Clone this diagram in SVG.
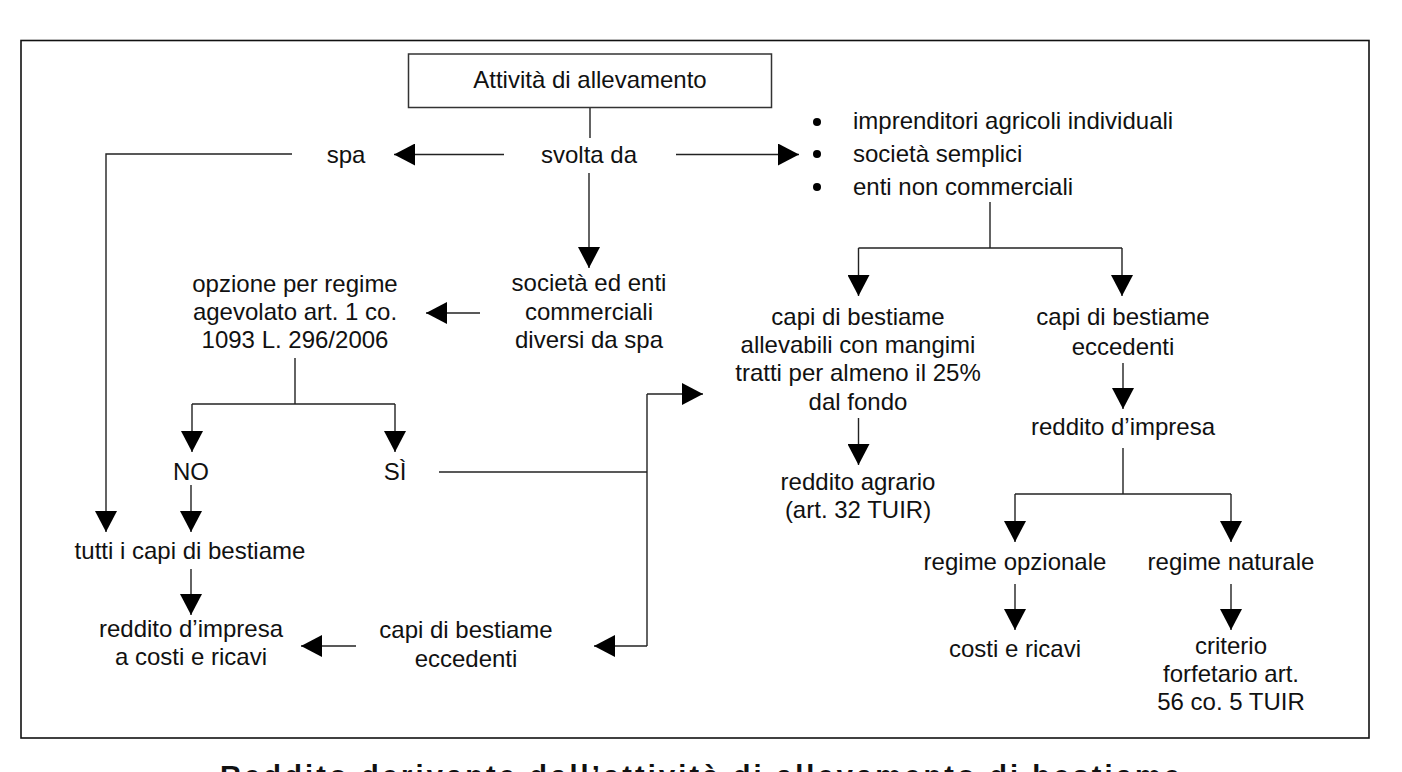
<svg xmlns="http://www.w3.org/2000/svg" width="1402" height="772" viewBox="0 0 1402 772">
<defs>
<marker id="ah" markerUnits="userSpaceOnUse" markerWidth="22" markerHeight="22" refX="21" refY="11" orient="auto">
<path d="M0,0 L21,11 L0,22 z" fill="#000"/>
</marker>
<style>
text{font-family:"Liberation Sans",Arial,sans-serif;font-size:24px;fill:#111;}
.c{text-anchor:middle;}
.ln{stroke:#222;stroke-width:1.4;fill:none;}
.ar{stroke:#222;stroke-width:1.4;fill:none;marker-end:url(#ah);}
.cap{font-weight:bold;font-size:29px;}
</style>
</defs>
<rect width="1402" height="772" fill="#fff"/>
<rect id="frame" x="21" y="40.5" width="1348" height="697.5" fill="none" stroke="#111" stroke-width="1.6"/>

<g id="connectors">
<line class="ln" x1="590" y1="107" x2="590" y2="138"/>
<line class="ar" x1="504" y1="154.5" x2="394" y2="154.5"/>
<line class="ar" x1="676" y1="154.5" x2="799" y2="154.5"/>
<line class="ar" x1="589" y1="173" x2="589" y2="268"/>
<polyline class="ar" points="292,154 106,154 106,532"/>
<line class="ar" x1="480" y1="313" x2="426" y2="313"/>
<line class="ln" x1="295" y1="358" x2="295" y2="404"/>
<line class="ln" x1="192" y1="404" x2="395" y2="404"/>
<line class="ar" x1="192" y1="404" x2="192" y2="452"/>
<line class="ar" x1="395" y1="404" x2="395" y2="452"/>
<line class="ar" x1="191" y1="485" x2="191" y2="532"/>
<line class="ar" x1="191" y1="569" x2="191" y2="615"/>
<line class="ln" x1="439" y1="472" x2="647" y2="472"/>
<line class="ln" x1="647" y1="394" x2="647" y2="646"/>
<line class="ar" x1="647" y1="394" x2="703" y2="394"/>
<line class="ar" x1="647" y1="646" x2="594" y2="646"/>
<line class="ar" x1="356" y1="646" x2="301" y2="646"/>
<line class="ln" x1="990" y1="202" x2="990" y2="248"/>
<line class="ln" x1="858.5" y1="248" x2="1122" y2="248"/>
<line class="ar" x1="858.5" y1="248" x2="858.5" y2="296"/>
<line class="ar" x1="1122" y1="248" x2="1122" y2="296"/>
<line class="ar" x1="858.5" y1="418" x2="858.5" y2="465"/>
<line class="ar" x1="1123" y1="363" x2="1123" y2="409"/>
<line class="ln" x1="1123" y1="448" x2="1123" y2="494"/>
<line class="ln" x1="1015" y1="494" x2="1231" y2="494"/>
<line class="ar" x1="1015" y1="494" x2="1015" y2="542"/>
<line class="ar" x1="1231" y1="494" x2="1231" y2="542"/>
<line class="ar" x1="1015" y1="584" x2="1015" y2="630"/>
<line class="ar" x1="1231" y1="584" x2="1231" y2="630"/>
</g>

<g id="n-attivita">
<rect x="408.5" y="54" width="363" height="53.5" fill="#fff" stroke="#333" stroke-width="1.5"/>
<text class="c" x="590" y="88">Attività di allevamento</text>
</g>
<g id="n-svolta"><text class="c" x="589" y="163">svolta da</text></g>
<g id="n-spa"><text class="c" x="346" y="163">spa</text></g>
<g id="n-elenco">
<circle cx="817" cy="122" r="4" fill="#000"/>
<circle cx="817" cy="154" r="4" fill="#000"/>
<circle cx="817" cy="187" r="4" fill="#000"/>
<text x="853" y="129">imprenditori agricoli individuali</text>
<text x="853" y="162">società semplici</text>
<text x="853" y="195">enti non commerciali</text>
</g>
<g id="n-societa"><text class="c" x="589" y="291">società ed enti</text><text class="c" x="589" y="320">commerciali</text><text class="c" x="589" y="348">diversi da spa</text></g>
<g id="n-opzione"><text class="c" x="295" y="292">opzione per regime</text><text class="c" x="295" y="320">agevolato art. 1 co.</text><text class="c" x="295" y="348">1093 L. 296/2006</text></g>
<g id="n-no"><text class="c" x="191" y="480">NO</text></g>
<g id="n-si"><text class="c" x="395" y="480">SÌ</text></g>
<g id="n-tutti"><text class="c" x="190" y="559">tutti i capi di bestiame</text></g>
<g id="n-reddito-costi"><text class="c" x="191" y="637">reddito d’impresa</text><text class="c" x="191" y="665">a costi e ricavi</text></g>
<g id="n-eccedenti-sx"><text class="c" x="466" y="638">capi di bestiame</text><text class="c" x="466" y="667">eccedenti</text></g>
<g id="n-allevabili"><text class="c" x="858" y="325">capi di bestiame</text><text class="c" x="858" y="353">allevabili con mangimi</text><text class="c" x="858" y="381">tratti per almeno il 25%</text><text class="c" x="858" y="410">dal fondo</text></g>
<g id="n-eccedenti-dx"><text class="c" x="1123" y="325">capi di bestiame</text><text class="c" x="1123" y="355">eccedenti</text></g>
<g id="n-reddito-impresa"><text class="c" x="1123" y="435">reddito d’impresa</text></g>
<g id="n-agrario"><text class="c" x="858" y="490">reddito agrario</text><text class="c" x="858" y="518">(art. 32 TUIR)</text></g>
<g id="n-opzionale"><text class="c" x="1015" y="570">regime opzionale</text></g>
<g id="n-naturale"><text class="c" x="1231" y="570">regime naturale</text></g>
<g id="n-costi"><text class="c" x="1015" y="657">costi e ricavi</text></g>
<g id="n-criterio"><text class="c" x="1231" y="654">criterio</text><text class="c" x="1231" y="682">forfetario art.</text><text class="c" x="1231" y="710">56 co. 5 TUIR</text></g>

<text id="caption" class="cap" x="220" y="786" textLength="960" lengthAdjust="spacing">Reddito derivante dall’attività di allevamento di bestiame</text>
</svg>
